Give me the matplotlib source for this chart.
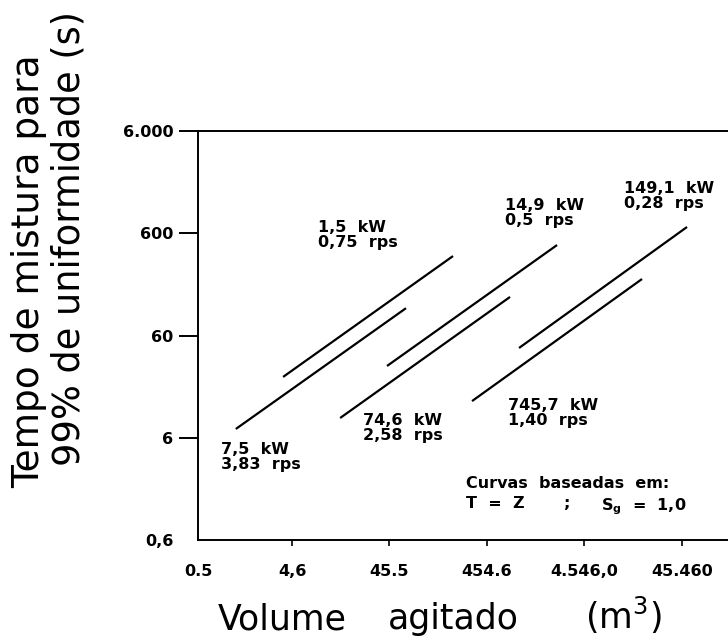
import matplotlib
matplotlib.use("Agg")
import matplotlib.pyplot as plt
from matplotlib.ticker import NullLocator

# ---------------- data ----------------
x_ticks = [0.5, 4.6, 45.5, 454.6, 4546.0, 45460.0]
x_tick_labels = ["0.5", "4,6", "45.5", "454.6", "4.546,0", "45.460"]
y_ticks = [0.6, 6, 60, 600, 6000]
y_tick_labels = ["0,6", "6", "60", "600", "6.000"]

power_kw = ["1,5", "7,5", "14,9", "74,6", "149,1", "745,7"]
speed_rps = ["0,75", "3,83", "0,5", "2,58", "0,28", "1,40"]

# volume (m3) and mixing time (s) at the ends of each curve
vol_1_5kw = [3.72, 205.0]
time_1_5kw = [23.6, 359.0]
vol_7_5kw = [1.22, 67.6]
time_7_5kw = [7.31, 111.0]
vol_14_9kw = [43.2, 2385.0]
time_14_9kw = [30.2, 460.0]
vol_74_6kw = [14.3, 787.0]
time_74_6kw = [9.36, 143.0]
vol_149_1kw = [973.0, 51200.0]
time_149_1kw = [45.3, 691.0]
vol_745_7kw = [321.0, 17700.0]
time_745_7kw = [13.7, 214.0]

x_max = 134600.0

# ---------------- figure ----------------
plt.rcParams["mathtext.default"] = "regular"
W, H = 728, 638
fig = plt.figure(figsize=(W / 100, H / 100), dpi=100)

BOLD = dict(fontfamily="DejaVu Sans", fontweight="bold", fontsize=11.5)


def px(x, y):
    return x / W, 1 - y / H


ax = fig.add_axes([198 / W, 1 - 540 / H, 530 / W, 409 / H])
ax.set_xscale("log")
ax.set_yscale("log")
ax.set_xlim(x_ticks[0], x_max)
ax.set_ylim(y_ticks[0], y_ticks[-1])

curves = [
    (vol_1_5kw, time_1_5kw),
    (vol_7_5kw, time_7_5kw),
    (vol_14_9kw, time_14_9kw),
    (vol_74_6kw, time_74_6kw),
    (vol_149_1kw, time_149_1kw),
    (vol_745_7kw, time_745_7kw),
]
for v, t in curves:
    ax.plot(v, t, color="black", lw=1.6, solid_capstyle="butt")

ax.set_xticks(x_ticks)
ax.set_xticklabels(x_tick_labels)
ax.set_yticks(y_ticks)
ax.set_yticklabels(y_tick_labels)
ax.xaxis.set_minor_locator(NullLocator())
ax.yaxis.set_minor_locator(NullLocator())
ax.tick_params(axis="y", direction="out", length=13.7, width=1.4, pad=4.0)
ax.tick_params(axis="x", direction="out", length=4.5, width=1.2, pad=13)
for lab in ax.get_xticklabels() + ax.get_yticklabels():
    lab.set_fontfamily(BOLD["fontfamily"])
    lab.set_fontweight(BOLD["fontweight"])
    lab.set_fontsize(BOLD["fontsize"])
ax.xaxis.get_major_ticks()[0].tick1line.set_visible(False)
ax.yaxis.get_major_ticks()[0].tick1line.set_visible(False)

ax.spines["right"].set_visible(False)
for s in ("left", "top", "bottom"):
    ax.spines[s].set_linewidth(1.4)

# ---------------- annotations ----------------
ann_pos = [(318, 220), (221, 442), (505, 198), (363, 413), (624, 181), (508, 398)]
for p, s, (x, y) in zip(power_kw, speed_rps, ann_pos):
    fig.text(*px(x, y), f"{p}  kW\n{s}  rps", ha="left", va="top",
             linespacing=1.0, **BOLD)

fig.text(*px(466, 476), "Curvas  baseadas  em:", ha="left", va="top", **BOLD)
fig.text(*px(466, 496), "T  =  Z", ha="left", va="top", **BOLD)
fig.text(*px(563, 496), ";", ha="left", va="top", **BOLD)
fig.text(*px(601, 496), "$S_g$  =  1,0", ha="left", va="top", **BOLD)

# ---------------- axis titles ----------------
fig.text(*px(29, 271), "Tempo de mistura para", rotation=90, ha="center",
         va="center", fontfamily="DejaVu Sans", fontsize=27)
fig.text(*px(69, 238), "99% de uniformidade (s)", rotation=90, ha="center",
         va="center", fontfamily="DejaVu Sans", fontsize=26.5)
xlab = dict(ha="left", va="baseline", fontfamily="DejaVu Sans", fontsize=25)
fig.text(*px(218, 629), "Volume", **xlab)
fig.text(*px(388, 629), "agitado", **xlab)
fig.text(*px(585, 629), "(m$^3$)", **xlab)

fig.savefig("out.png", dpi=100)
